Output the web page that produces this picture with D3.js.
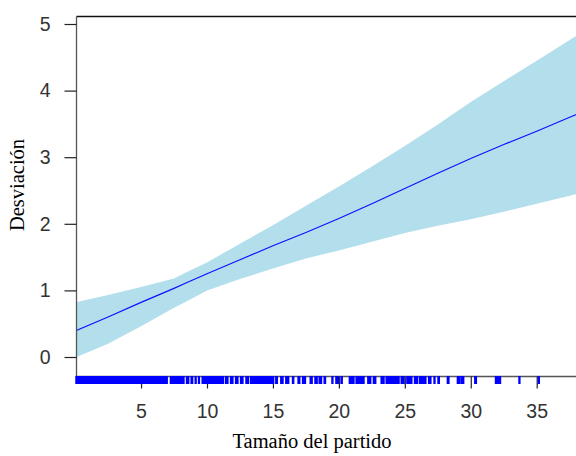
<!DOCTYPE html>
<html>
<head>
<meta charset="utf-8">
<script src="https://cdn.jsdelivr.net/npm/d3@7"></script>
<style>
  body { margin: 0; background: #fff; }
  svg { display: block; }
</style>
</head>
<body>
<svg></svg>
<script>
// smooth term
var xs    = [0, 2.5, 5, 7.5, 8.4, 10, 12.5, 15, 17.5, 20, 22.5, 25, 27.5, 30, 32.5, 35, 37.5, 40];
var fit   = [0.39, 0.60, 0.82, 1.03, 1.11, 1.25, 1.46, 1.67, 1.87, 2.08, 2.30, 2.53, 2.76, 2.98, 3.19, 3.39, 3.60, 3.80];
var upper = [0.82, 0.93, 1.05, 1.18, 1.27, 1.42, 1.70, 1.98, 2.27, 2.56, 2.86, 3.17, 3.49, 3.83, 4.14, 4.45, 4.76, 5.07];
var lower = [-0.01, 0.20, 0.46, 0.74, 0.83, 1.00, 1.17, 1.33, 1.48, 1.60, 1.73, 1.86, 1.97, 2.07, 2.18, 2.30, 2.42, 2.55];

// rug, as [from, to] runs of observed sizes
var rug = [
  [0.05, 7.00], [7.21, 8.27], [8.43, 8.63], [8.78, 8.93], [9.09, 9.19], [9.34, 9.44],
  [9.62, 9.74], [9.79, 11.26], [11.39, 11.60], [11.77, 11.98], [12.15, 12.36], [12.53, 12.74],
  [12.94, 13.17], [13.30, 15.07], [15.20, 15.35], [15.58, 15.78], [15.96, 16.21], [16.47, 16.59],
  [16.89, 17.05], [17.23, 17.48], [17.81, 17.99], [18.17, 18.37], [18.49, 18.70], [18.87, 19.00],
  [19.46, 19.56], [19.76, 19.97], [20.15, 20.27], [20.78, 21.16], [21.29, 21.92], [22.18, 22.43],
  [22.60, 22.81], [23.19, 23.44], [23.57, 24.58], [24.71, 24.96], [25.14, 25.55], [25.72, 25.98],
  [26.10, 26.61], [26.79, 26.99], [27.20, 27.30], [27.50, 27.63], [28.21, 28.36], [28.97, 29.20],
  [29.28, 29.48], [30.29, 30.44], [31.86, 32.27], [33.64, 33.74], [35.11, 35.21]
];

var xTicks = [5, 10, 15, 20, 25, 30, 35];
var yTicks = [0, 1, 2, 3, 4, 5];

var W = 576, H = 456;
var pl = 76.5, pt = 16.5, pb = 376.5, pr = 620;

var svg = d3.select("svg").attr("width", W).attr("height", H);

var x = d3.scaleLinear().domain([0, 35]).range([75.1, 536.7]);
var y = d3.scaleLinear().domain([0, 5]).range([357, 24]);

svg.append("clipPath").attr("id", "plotclip")
  .append("rect")
  .attr("x", pl).attr("y", pt)
  .attr("width", pr - pl).attr("height", pb - pt);

var pts = xs.map(function(v, i) {
  return { x: v, f: fit[i], hi: upper[i], lo: lower[i] };
});

var g = svg.append("g").attr("clip-path", "url(#plotclip)");

g.append("path")
  .datum(pts)
  .attr("fill", "#b2dfeb")
  .attr("d", d3.area()
    .x(function(d) { return x(d.x); })
    .y0(function(d) { return y(d.lo); })
    .y1(function(d) { return y(d.hi); }));

g.append("path")
  .datum(pts)
  .attr("fill", "none")
  .attr("stroke", "#1010ff")
  .attr("stroke-width", 1.2)
  .attr("d", d3.line()
    .x(function(d) { return x(d.x); })
    .y(function(d) { return y(d.f); }));

// box
svg.append("line").attr("x1", pl).attr("x2", W).attr("y1", pt).attr("y2", pt)
  .attr("stroke", "#111").attr("stroke-width", 1.3);
svg.append("line").attr("x1", pl).attr("x2", pl).attr("y1", pt).attr("y2", pb)
  .attr("stroke", "#555").attr("stroke-width", 1.3);
svg.append("line").attr("x1", pl).attr("x2", W).attr("y1", pb).attr("y2", pb)
  .attr("stroke", "#555").attr("stroke-width", 1.3);

// axes
var yAxis = svg.append("g")
  .attr("transform", "translate(" + pl + ",0)")
  .call(d3.axisLeft(y).tickValues(yTicks).tickSize(12).tickPadding(14).tickFormat(d3.format("d")));
var xAxis = svg.append("g")
  .attr("transform", "translate(0," + pb + ")")
  .call(d3.axisBottom(x).tickValues(xTicks).tickSize(12).tickPadding(16).tickFormat(d3.format("d")));

[yAxis, xAxis].forEach(function(a) {
  a.select(".domain").remove();
  a.selectAll(".tick line").attr("stroke", "#222").attr("stroke-width", 1.2);
  a.selectAll(".tick text")
    .attr("fill", "#333")
    .style("font-family", "'Liberation Sans', Arial, sans-serif")
    .style("font-size", "19.5px");
});

// rug
svg.append("g").selectAll("rect")
  .data(rug)
  .join("rect")
  .attr("x", function(d) { return x(d[0]) - 0.5; })
  .attr("width", function(d) { return Math.max(1, x(d[1]) - x(d[0]) + 1); })
  .attr("y", 376)
  .attr("height", 8)
  .attr("fill", "#0000ff");

// labels
svg.append("text")
  .attr("x", 312).attr("y", 448)
  .attr("text-anchor", "middle")
  .style("font-family", "'Liberation Serif', 'Times New Roman', serif")
  .style("font-size", "20.5px")
  .attr("fill", "#000")
  .text("Tamaño del partido");

svg.append("text")
  .attr("transform", "translate(24,185) rotate(-90)")
  .attr("text-anchor", "middle")
  .style("font-family", "'Liberation Serif', 'Times New Roman', serif")
  .style("font-size", "20.5px")
  .attr("fill", "#000")
  .text("Desviación");
</script>
</body>
</html>
